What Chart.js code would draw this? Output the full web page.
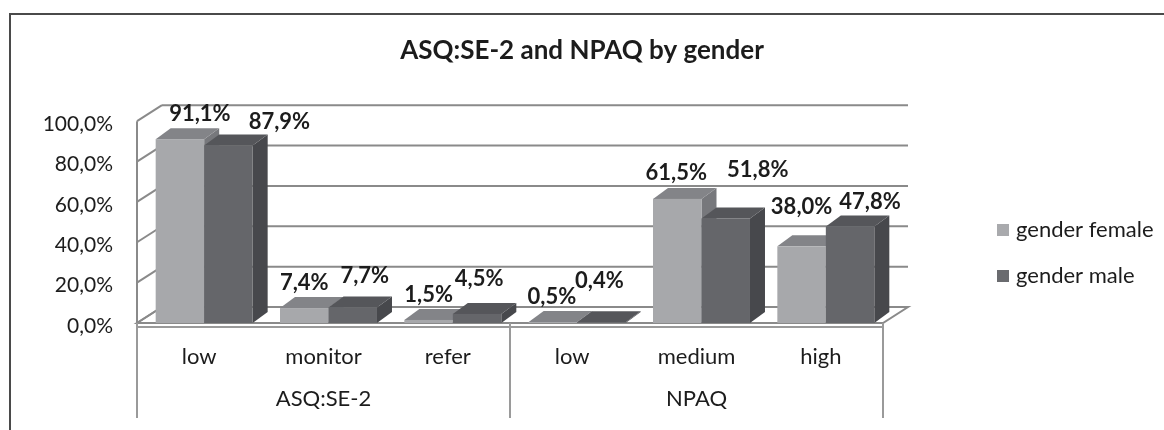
<!DOCTYPE html>
<html>
<head>
<meta charset="utf-8">
<title>ASQ:SE-2 and NPAQ by gender</title>
<script src="https://cdn.jsdelivr.net/npm/chart.js@4.4.1/dist/chart.umd.min.js"></script>
<style>
  html, body { margin: 0; padding: 0; background: #fff; }
  #wrap { width: 1164px; height: 430px; }
</style>
</head>
<body>
<div id="wrap"><canvas id="genderChart" width="1164" height="430"></canvas></div>
<script>
const subCategories = ['low', 'monitor', 'refer', 'low', 'medium', 'high'];
const groupLabels = ['ASQ:SE-2', 'NPAQ'];
const femaleValues = [91.1, 7.4, 1.5, 0.5, 61.5, 38.0];
const maleValues = [87.9, 7.7, 4.5, 0.4, 51.8, 47.8];
const seriesNames = ['gender female', 'gender male'];

// hand-placed nudges for the value labels (px), one per bar
const labelNudgeX = [[20, 0, 0, -1, -1, 0], [51, 12, 2, -2, 32, 20]];
const labelNudgeY = [[0, 0, 0, 0, -1, -14], [1, -7, -10, -16, -24, 0]];

const FONT = 'Lato, "Open Sans", sans-serif';
const INK = '#1c1c1c';
const GRID = '#8a8a8a';
const WALL = { dx: 25, dy: -16 };   // depth of floor / back wall
const BOX = { dx: 15, dy: -11 };    // depth of each column
const BAR_SHIFT = 5;
const FLOOR_THICK = 4;

const faces = [
  { front: '#a7a8ab', top: '#838488', side: '#77787c' },
  { front: '#65666a', top: '#55565a', side: '#47484c' }
];

const fmt = v => v.toFixed(1).replace('.', ',') + '%';

function line(ctx, x1, y1, x2, y2) {
  ctx.beginPath();
  ctx.moveTo(x1, y1);
  ctx.lineTo(x2, y2);
  ctx.stroke();
}

function poly(ctx, pts, fill) {
  ctx.beginPath();
  ctx.moveTo(pts[0][0], pts[0][1]);
  for (let k = 1; k < pts.length; k++) ctx.lineTo(pts[k][0], pts[k][1]);
  ctx.closePath();
  ctx.fillStyle = fill;
  ctx.fill();
}

const box3d = {
  id: 'box3d',
  beforeDraw(chart) {
    const ctx = chart.ctx;
    ctx.save();
    ctx.strokeStyle = '#4a4a4a';
    ctx.lineWidth = 2;
    ctx.strokeRect(10, 14, 1300, 600);
    ctx.restore();
  },
  beforeDatasetsDraw(chart) {
    const { ctx, chartArea: a, scales: { y } } = chart;
    ctx.save();
    ctx.strokeStyle = GRID;
    ctx.lineWidth = 2;

    // floor top
    ctx.beginPath();
    ctx.moveTo(a.left, a.bottom);
    ctx.lineTo(a.right, a.bottom);
    ctx.lineTo(a.right + WALL.dx, a.bottom + WALL.dy);
    ctx.lineTo(a.left + WALL.dx, a.bottom + WALL.dy);
    ctx.closePath();
    ctx.fillStyle = '#fff';
    ctx.fill();
    ctx.stroke();
    line(ctx, a.right, a.bottom, a.right, a.bottom + FLOOR_THICK);

    // back wall gridlines and side wall slants
    y.ticks.forEach(t => {
      const py = y.getPixelForValue(t.value);
      line(ctx, a.left, py, a.left + WALL.dx, py + WALL.dy);
      line(ctx, a.left + WALL.dx, py + WALL.dy, a.right + WALL.dx, py + WALL.dy);
    });
    line(ctx, a.left, a.top, a.left, a.bottom);

    // columns, left to right, female before male
    const metas = chart.data.datasets.map((d, i) => chart.getDatasetMeta(i));
    subCategories.forEach((_, j) => {
      metas.forEach((meta, i) => {
        const el = meta.data[j];
        const x0 = el.x - el.width / 2 + BAR_SHIFT;
        const x1 = el.x + el.width / 2 + BAR_SHIFT;
        const yt = el.y, yb = el.base;
        const f = faces[i];
        poly(ctx, [[x1, yt], [x1 + BOX.dx, yt + BOX.dy], [x1 + BOX.dx, yb + BOX.dy], [x1, yb]], f.side);
        poly(ctx, [[x0, yt], [x1, yt], [x1 + BOX.dx, yt + BOX.dy], [x0 + BOX.dx, yt + BOX.dy]], f.top);
        ctx.fillStyle = f.front;
        ctx.fillRect(x0, yt, x1 - x0, yb - yt);
      });
    });

    // value labels
    ctx.fillStyle = INK;
    ctx.font = 'bold 22px ' + FONT;
    ctx.textAlign = 'center';
    ctx.textBaseline = 'middle';
    metas.forEach((meta, i) => {
      const values = chart.data.datasets[i].data;
      meta.data.forEach((el, j) => {
        ctx.fillText(fmt(values[j]), el.x + BAR_SHIFT + labelNudgeX[i][j], el.y - 25 + labelNudgeY[i][j]);
      });
    });
    ctx.restore();
    return false;
  },
  afterDraw(chart) {
    const { ctx, chartArea: a, scales: { x } } = chart;
    ctx.save();
    // category axis box
    ctx.strokeStyle = '#9a9a9a';
    ctx.lineWidth = 2;
    const top = a.bottom + FLOOR_THICK;
    const split = (x.getPixelForValue(2) + x.getPixelForValue(3)) / 2;
    line(ctx, a.left, top, a.right, top);
    [a.left, split, a.right].forEach(px => line(ctx, px, a.bottom, px, 418));

    // legend
    ctx.font = '22px ' + FONT;
    ctx.textAlign = 'left';
    ctx.textBaseline = 'middle';
    chart.data.datasets.forEach((ds, i) => {
      const cy = 230 + i * 46;
      ctx.fillStyle = ds.backgroundColor;
      ctx.fillRect(997, cy - 6, 12, 12);
      ctx.fillStyle = INK;
      ctx.fillText(ds.label, 1016, cy);
    });
    ctx.restore();
  }
};

new Chart(document.getElementById('genderChart'), {
  type: 'bar',
  data: {
    labels: subCategories,
    datasets: [
      { label: seriesNames[0], data: femaleValues, backgroundColor: '#a9aaad' },
      { label: seriesNames[1], data: maleValues, backgroundColor: '#6a6b6f' }
    ]
  },
  options: {
    responsive: false,
    devicePixelRatio: 1,
    animation: false,
    layout: { padding: 0 },
    datasets: { bar: { barPercentage: 1, categoryPercentage: 0.78 } },
    plugins: {
      legend: { display: false },
      tooltip: { enabled: false },
      title: {
        display: true,
        text: 'ASQ:SE-2 and NPAQ by gender',
        color: INK,
        font: { family: FONT, size: 26, weight: 'bold' },
        padding: { top: 35, bottom: 55 }
      }
    },
    scales: {
      x: {
        weight: 0,
        grid: { display: false, drawTicks: false },
        border: { display: false },
        ticks: { color: INK, font: { family: FONT, size: 22 }, padding: 21, autoSkip: false, maxRotation: 0 },
        afterFit(s) { s.height = 57; }
      },
      xGroup: {
        type: 'category',
        position: 'bottom',
        weight: 1,
        labels: groupLabels,
        offset: true,
        grid: { display: false, drawTicks: false },
        border: { display: false },
        ticks: { color: INK, font: { family: FONT, size: 22 }, padding: 6 },
        afterFit(s) { s.height = 50; }
      },
      y: {
        min: 0,
        max: 100,
        grid: { display: false, drawTicks: false },
        border: { display: false },
        ticks: { stepSize: 20, color: INK, font: { family: FONT, size: 21 }, padding: 24, labelOffset: 3, callback: v => fmt(v) },
        afterFit(s) { s.width = 137; }
      },
      yRight: {
        type: 'linear',
        position: 'right',
        grid: { display: false },
        border: { display: false },
        ticks: { display: false },
        afterFit(s) { s.width = 281; }
      }
    }
  },
  plugins: [box3d]
});
</script>
</body>
</html>
